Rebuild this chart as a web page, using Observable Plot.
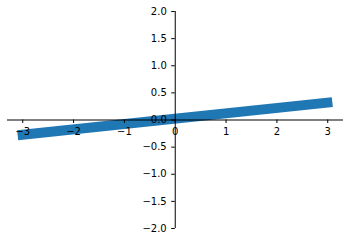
<!DOCTYPE html>
<html>
<head>
<meta charset="utf-8">
<script src="https://cdn.jsdelivr.net/npm/d3@7"></script>
<script src="https://cdn.jsdelivr.net/npm/@observablehq/plot@0.6"></script>
<style>
  html, body { margin: 0; padding: 0; background: #fff; }
</style>
</head>
<body>
<div id="chart"></div>
<script>
const lineX = [-3.1, 3.09];
const lineY = [-0.28, 0.33];
const xTicks = [-3, -2, -1, 0, 1, 2, 3];
const yTicks = [-2, -1.5, -1, -0.5, 0, 0.5, 1, 1.5, 2];

const lineData = lineX.map((x, i) => ({x, y: lineY[i]}));
const fmtX = d3.format("d");
const fmtY = d3.format(".1f");

const chart = Plot.plot({
  width: 349,
  height: 241,
  marginLeft: 7,
  marginRight: 6,
  marginTop: 11,
  marginBottom: 13,
  x: {domain: [-3.3, 3.31], axis: null},
  y: {domain: [-2, 2], axis: null},
  style: {fontFamily: "DejaVu Sans", fontSize: "10px", background: "#fff", color: "#000"},
  marks: [
    Plot.line(lineData, {x: "x", y: "y", stroke: "#1f77b4", strokeWidth: 10, strokeLinecap: "butt"}),
    Plot.ruleY([0], {stroke: "#000", strokeWidth: 1}),
    Plot.ruleX([0], {stroke: "#000", strokeWidth: 1}),
    Plot.ruleX(xTicks, {x: d => d, y1: 0, y2: 0, insetBottom: -3.5, stroke: "#000", strokeWidth: 1}),
    Plot.ruleY(yTicks, {y: d => d, x1: 0, x2: 0, insetLeft: -3.5, stroke: "#000", strokeWidth: 1}),
    Plot.text(xTicks, {x: d => d, y: 0, dy: 12, text: d => fmtX(d), fill: "#000", fontSize: 10}),
    Plot.text(yTicks, {x: 0, y: d => d, dx: -8.5, textAnchor: "end", text: d => fmtY(d), fill: "#000", fontSize: 10})
  ]
});
document.getElementById("chart").append(chart);
</script>
</body>
</html>
